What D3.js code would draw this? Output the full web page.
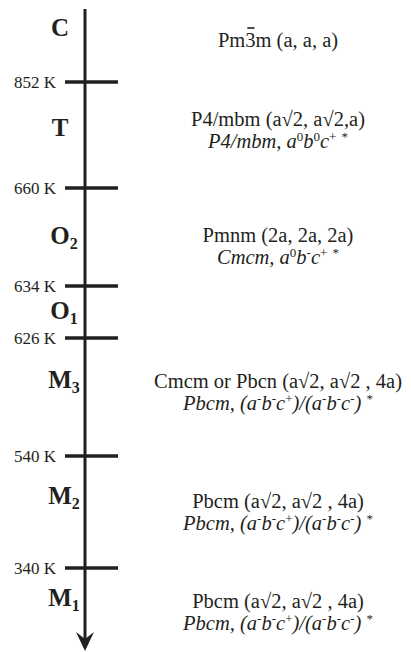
<!DOCTYPE html>
<html>
<head>
<meta charset="utf-8">
<script src="https://cdn.jsdelivr.net/npm/d3@7"></script>
<style>
  html, body { margin: 0; padding: 0; background: #fff; }
  svg { display: block; font-family: 'Liberation Serif', 'DejaVu Serif', serif; }
</style>
</head>
<body>
<div id="chart"></div>
<script>
// Transition temperatures (K), top to bottom
const transitionTemps = [852, 660, 634, 626, 540, 340];

// Phases, hottest first
const phaseNames = ['C', 'T', 'O', 'O', 'M', 'M', 'M'];
const phaseSubs = ['', '', '2', '1', '3', '2', '1'];

// Space group + cell for each phase (empty = no text)
const spaceGroups = [
  'Pm3m (a, a, a)',
  'P4/mbm (a√2, a√2,a)',
  'Pmnm (2a, 2a, 2a)',
  '',
  'Cmcm or Pbcn (a√2, a√2 , 4a)',
  'Pbcm (a√2, a√2 , 4a)',
  'Pbcm (a√2, a√2 , 4a)'
];

// Tilt systems, "^x" marks a superscript character
const tiltSystems = [
  '',
  'P4/mbm, a^0b^0c^+ ^*',
  'Cmcm, a^0b^-c^+ ^*',
  '',
  'Pbcm, (a^-b^-c^+)/(a^-b^-c^-) ^*',
  'Pbcm, (a^-b^-c^+)/(a^-b^-c^-) ^*',
  'Pbcm, (a^-b^-c^+)/(a^-b^-c^-) ^*'
];

const width = 411;
const height = 652;

// layout: schematic (not linear in T) so the scale is piecewise
const axisX = 85;
const axisTop = 9;
const axisBottom = 651;
const tickRange = [82, 188, 286, 338, 456, 568];
const letterY = [36, 136, 244, 319, 388, 504, 606];
const groupY = [47, 126, 242, 0, 388, 508, 608];
const lineGap = 22;
const textX = 278;
const ink = '#231f20';

const y = d3.scaleLinear().domain(transitionTemps).range(tickRange);

const svg = d3.select('#chart').append('svg')
  .attr('width', width)
  .attr('height', height);

// main axis
svg.append('line')
  .attr('x1', axisX).attr('x2', axisX)
  .attr('y1', axisTop).attr('y2', axisBottom - 12)
  .attr('stroke', ink)
  .attr('stroke-width', 3);

// arrow head with a notched back
svg.append('path')
  .attr('d', `M${axisX},${axisBottom} L${axisX - 9},${axisBottom - 19} L${axisX},${axisBottom - 12} L${axisX + 9},${axisBottom - 19} Z`)
  .attr('fill', ink);

// transition ticks + labels
const ticks = svg.selectAll('.tick')
  .data(transitionTemps)
  .enter()
  .append('g')
  .attr('class', 'tick')
  .attr('transform', d => `translate(0,${y(d)})`);

ticks.append('line')
  .attr('x1', 65).attr('x2', 118)
  .attr('stroke', ink)
  .attr('stroke-width', 3.5);

ticks.append('text')
  .attr('x', 56)
  .attr('dy', '0.35em')
  .attr('text-anchor', 'end')
  .attr('font-size', '17px')
  .attr('fill', ink)
  .text(d => `${d} K`);

// phase letters with subscripts
phaseNames.forEach((name, i) => {
  const t = svg.append('text')
    .attr('x', 60)
    .attr('y', letterY[i])
    .attr('text-anchor', 'middle')
    .attr('font-size', '25px')
    .attr('font-weight', 'bold')
    .attr('fill', ink)
    .text(name);
  if (phaseSubs[i]) {
    const w = t.node().getComputedTextLength();
    svg.append('text')
      .attr('x', 60 + w / 2)
      .attr('y', letterY[i] + 5)
      .attr('font-size', '16px')
      .attr('font-weight', 'bold')
      .attr('fill', ink)
      .text(phaseSubs[i]);
  }
});

// space group lines
spaceGroups.forEach((s, i) => {
  if (!s) return;
  const t = svg.append('text')
    .attr('x', textX)
    .attr('y', groupY[i])
    .attr('text-anchor', 'middle')
    .attr('font-size', '20.5px')
    .attr('fill', ink)
    .text(s);
  // overbar on the 3 of Pm-3m
  if (s.startsWith('Pm3m')) {
    const box = t.node().getExtentOfChar(2);
    svg.append('line')
      .attr('x1', box.x + 2).attr('x2', box.x + box.width - 1)
      .attr('y1', groupY[i] - 19).attr('y2', groupY[i] - 19)
      .attr('stroke', ink)
      .attr('stroke-width', 1.6);
  }
});

// tilt systems (italic, with superscripts)
tiltSystems.forEach((s, i) => {
  if (!s) return;
  const t = svg.append('text')
    .attr('x', textX)
    .attr('y', groupY[i] + lineGap)
    .attr('text-anchor', 'middle')
    .attr('font-size', '20.5px')
    .attr('font-style', 'italic')
    .attr('fill', ink);
  const parts = s.split(/\^(.)/);
  let raised = false;
  parts.forEach((p, k) => {
    if (!p) return;
    const sup = k % 2 === 1;
    const ts = t.append('tspan').text(p);
    if (sup) {
      ts.attr('font-size', '13px').attr('font-style', 'normal');
      if (!raised) { ts.attr('dy', -7); raised = true; }
    } else if (raised) {
      ts.attr('dy', 7);
      raised = false;
    }
  });
});
</script>
</body>
</html>
